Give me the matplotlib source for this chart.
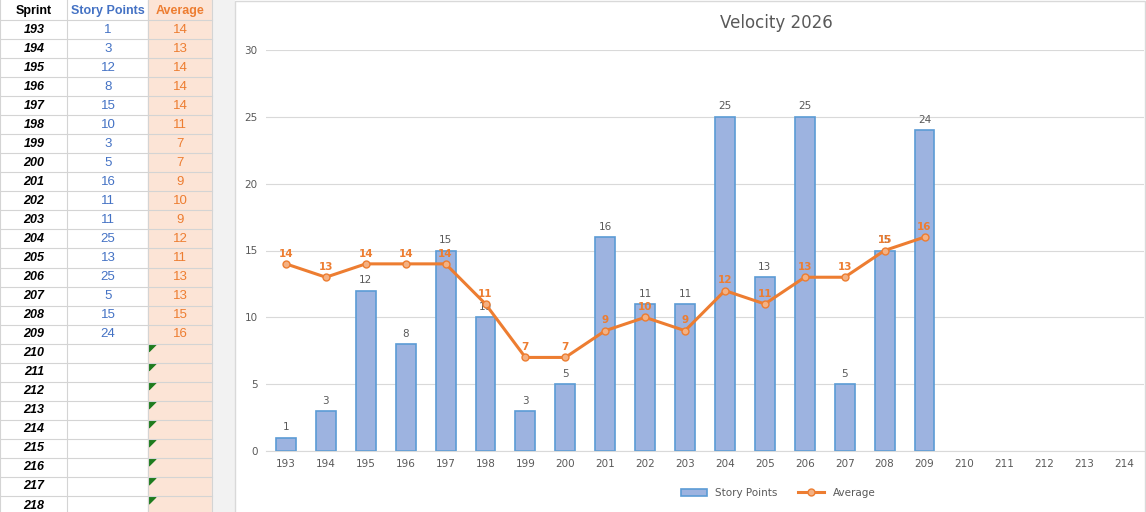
import matplotlib
matplotlib.use("Agg")
import matplotlib.pyplot as plt
from matplotlib.patches import Rectangle, Polygon

sprints = list(range(193, 215))
table_sprints = list(range(193, 219))
story_points = [1, 3, 12, 8, 15, 10, 3, 5, 16, 11, 11, 25, 13, 25, 5, 15, 24]
average = [14, 13, 14, 14, 14, 11, 7, 7, 9, 10, 9, 12, 11, 13, 13, 15, 16]

W, H = 1146, 512
fig = plt.figure(figsize=(W / 100, H / 100), dpi=100)
fig.patch.set_facecolor("white")

# ---- spreadsheet table on the left (pixel coords) ----
tab = fig.add_axes([0, 0, 1, 1])
tab.set_xlim(0, W)
tab.set_ylim(H, 0)
tab.axis("off")
cols = [0, 67, 148, 212]
row_h = 19.04
top = 20
tab.add_patch(Rectangle((148, 0), 64, H, color="#FCE4D6", zorder=0))
tab.add_patch(Rectangle((212, 0), 22, H, color="#F2F2F2", zorder=0))
for x in cols:
    tab.plot([x, x], [0, H], color="#D4D4D4", lw=0.8)
tab.plot([0, 212], [top, top], color="#D4D4D4", lw=0.8)
hdr = [("Sprint", "black"), ("Story Points", "#4472C4"), ("Average", "#ED7D31")]
for i, (t, c) in enumerate(hdr):
    tab.text((cols[i] + cols[i + 1]) / 2, 11, t, color=c, fontsize=9,
             fontweight="bold", ha="center", va="center", family="Liberation Sans")
for r, s in enumerate(table_sprints):
    y0 = top + r * row_h
    tab.plot([0, 212], [y0 + row_h, y0 + row_h], color="#D4D4D4", lw=0.8)
    yc = y0 + row_h / 2
    tab.text(34, yc, str(s), style="italic", fontweight="bold", fontsize=9,
             ha="center", va="center", family="Liberation Sans")
    if r < len(story_points):
        tab.text(108, yc, str(story_points[r]), color="#4472C4", fontsize=9.5,
                 ha="center", va="center", family="Liberation Sans")
        tab.text(180, yc, str(average[r]), color="#ED7D31", fontsize=9.5,
                 ha="center", va="center", family="Liberation Sans")
    else:
        tab.add_patch(Polygon([[149, y0 + 1], [156, y0 + 1], [149, y0 + 8]],
                              color="#1E7B1E"))
tab.add_patch(Rectangle((235, 1), 910, H, fill=False, ec="#D9D9D9", lw=1))

# ---- chart ----
ax = fig.add_axes([266 / W, 1 - 451 / H, (1144 - 266) / W, (451 - 50) / H])
ax.set_facecolor("none")
xs = list(range(len(sprints)))
bx = xs[:len(story_points)]
bars = ax.bar(bx, story_points, width=0.5, color="#9DB3E0", edgecolor="#5B9BD5",
              lw=1.2, zorder=2, label="Story Points")
for x, v in zip(bx, story_points):
    ax.text(x, v + 0.4, str(v), ha="center", va="bottom", fontsize=7.5, color="#595959")
line, = ax.plot(bx, average, color="#ED7D31", lw=2.2, marker="o", ms=5,
                mfc="#F4B183", mec="#ED7D31", zorder=3, label="Average")
for x, v in zip(bx, average):
    ax.text(x, v + 0.4, str(v), ha="center", va="bottom", fontsize=7.5,
            color="#ED7D31", fontweight="bold")
ax.set_xlim(-0.5, len(sprints) - 0.5)
ax.set_ylim(0, 30)
ax.set_yticks(range(0, 31, 5))
ax.set_xticks(xs)
ax.set_xticklabels([str(s) for s in sprints])
ax.tick_params(length=0, labelsize=7.5, colors="#595959", pad=6)
ax.grid(axis="y", color="#D9D9D9", lw=0.8, zorder=0)
for sp in ["top", "right", "left"]:
    ax.spines[sp].set_visible(False)
ax.spines["bottom"].set_color("#D9D9D9")
fig.text(776 / W, 1 - 23 / H, "Velocity 2026", ha="center", va="center",
         fontsize=12, color="#595959")
fig.legend([bars, line], ["Story Points", "Average"], loc="center",
           bbox_to_anchor=(778 / W, 1 - 493 / H), ncol=2,
           frameon=False, fontsize=7.5, labelcolor="#595959", handlelength=2.5)

fig.savefig("out.png", dpi=100)
